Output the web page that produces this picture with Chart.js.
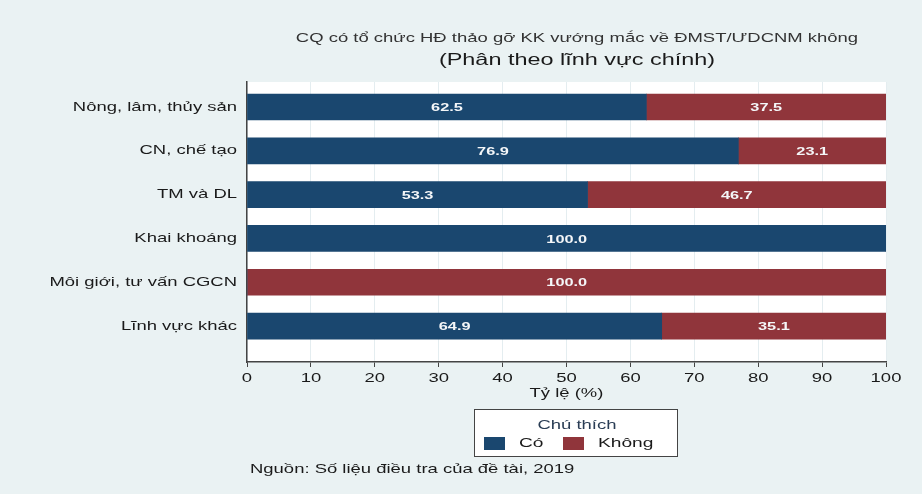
<!DOCTYPE html>
<html>
<head>
<meta charset="utf-8">
<script src="https://cdn.jsdelivr.net/npm/chart.js@4"></script>
<style>
  html, body { margin:0; padding:0; background:#eaf2f3; }
  #wrap { position:relative; width:922px; height:494px; background:#eaf2f3; font-family:"Liberation Sans", Arial, sans-serif; color:#222; overflow:hidden; }
  #chart { position:absolute; left:0; top:0; }
  /* the reference text is stretched sideways, so every label is too */
  .sx { position:absolute; white-space:nowrap; transform:scaleX(1.42); }
  .t1 { left:277px; width:600px; top:30px; text-align:center; font-size:13px; color:#333; transform-origin:center; }
  .t2 { left:277px; width:600px; top:50px; text-align:center; font-size:16.5px; color:#1a1a1a; transform-origin:center; }
  #legend { position:absolute; left:474px; top:409px; width:204px; height:48px; background:#fff; border:1.5px solid #444; box-sizing:border-box; }
  .lt { left:0; width:204px; top:7px; text-align:center; font-size:13px; color:#2a3d55; transform-origin:center; }
  .sw { position:absolute; width:21px; height:13px; top:27px; }
  .li { top:25px; font-size:13.5px; color:#1a1a1a; transform-origin:left; }
  .src { left:250px; top:461px; font-size:13px; color:#1a1a1a; transform-origin:left; }
</style>
</head>
<body>
<div id="wrap">
  <canvas id="chart" width="922" height="494"></canvas>
  <div class="sx t1">CQ có tổ chức HĐ thảo gỡ KK vướng mắc về ĐMST/ƯDCNM không</div>
  <div class="sx t2">(Phân theo lĩnh vực chính)</div>
  <div id="legend"><div class="sx lt">Chú thích</div></div>
  <div class="sx src">Nguồn: Số liệu điều tra của đề tài, 2019</div>
</div>
<script>
// ===== DATA =====
const categories = ["Nông, lâm, thủy sản", "CN, chế tạo", "TM và DL", "Khai khoáng", "Môi giới, tư vấn CGCN", "Lĩnh vực khác"];
const coValues = [62.5, 76.9, 53.3, 100.0, 0, 64.9];
const khongValues = [37.5, 23.1, 46.7, 0, 100.0, 35.1];
const xTicks = [0, 10, 20, 30, 40, 50, 60, 70, 80, 90, 100];
const seriesNames = ["Có", "Không"];
const colors = ["#1a476f", "#90353b"];

const SX = 1.42; // horizontal text stretch seen in the reference
const FONT = "'Liberation Sans', Arial, sans-serif";

// ===== PLUGINS =====
const plotBg = {
  id: "plotBg",
  beforeDraw(chart){
    const a = chart.chartArea, ctx = chart.ctx;
    ctx.save();
    ctx.fillStyle = "#fff";
    ctx.fillRect(a.left, a.top, a.right - a.left, a.bottom - a.top);
    ctx.restore();
  }
};

// stretch every canvas text sideways while the chart draws
const stretchText = {
  id: "stretchText",
  beforeDraw(chart){
    const ctx = chart.ctx;
    const orig = CanvasRenderingContext2D.prototype.fillText;
    ctx.fillText = function(t, x, y){
      this.save();
      this.translate(x, y);
      this.scale(SX, 1);
      orig.call(this, t, 0, 0);
      this.restore();
    };
  },
  afterDraw(chart){
    delete chart.ctx.fillText;
  }
};

const barLabels = {
  id: "barLabels",
  afterDatasetsDraw(chart){
    const ctx = chart.ctx;
    ctx.save();
    ctx.fillStyle = "#f4f6f8";
    ctx.font = "bold 11.5px " + FONT;
    ctx.textAlign = "center";
    ctx.textBaseline = "middle";
    chart.data.datasets.forEach((ds, di) => {
      chart.getDatasetMeta(di).data.forEach((el, i) => {
        const v = ds.data[i].x;
        if(!v) return;
        const p = el.getProps(["x", "y", "base"], true);
        ctx.fillText(v.toFixed(1), (p.x + p.base) / 2, p.y + 1);
      });
    });
    ctx.restore();
  }
};

// ===== CHART =====
const ctx = document.getElementById("chart").getContext("2d");
const chart = new Chart(ctx, {
  type: "bar",
  data: {
    datasets: [
      { label: seriesNames[0], data: coValues.map((v, i) => ({ x: v, y: i })), backgroundColor: colors[0], barThickness: 26 },
      { label: seriesNames[1], data: khongValues.map((v, i) => ({ x: v, y: i })), backgroundColor: colors[1], barThickness: 26 }
    ]
  },
  options: {
    indexAxis: "y",
    responsive: false,
    animation: false,
    layout: { padding: { top: 82, right: 36, bottom: 92, left: 0 } },
    plugins: { legend: { display: false }, title: { display: false }, tooltip: { enabled: false } },
    scales: {
      x: {
        type: "linear", stacked: true, min: 0, max: 100,
        afterBuildTicks: s => { s.ticks = xTicks.map(v => ({ value: v })); },
        afterFit: s => { s.height = 40; },
        grid: { color: "#e4edf0", lineWidth: 1, tickColor: "#444", tickLength: 5 },
        border: { display: true, color: "#444", width: 1.5 },
        ticks: { color: "#1a1a1a", font: { size: 13, family: FONT }, padding: 4, maxRotation: 0 },
        title: { display: true, text: "Tỷ lệ (%)", color: "#1a1a1a", font: { size: 13, family: FONT }, padding: { top: 0, bottom: 1 } }
      },
      y: {
        type: "linear", stacked: true, reverse: true, offset: false, min: -0.57, max: 5.82,
        afterBuildTicks: s => { s.ticks = categories.map((_, i) => ({ value: i })); },
        afterFit: s => { s.width = 247; },
        grid: { display: false, drawTicks: false },
        border: { display: true, color: "#444", width: 1.5 },
        ticks: { color: "#1a1a1a", font: { size: 13, family: FONT }, padding: 10, callback: v => categories[v] }
      }
    }
  },
  plugins: [plotBg, stretchText, barLabels]
});

// ===== LEGEND =====
const legend = document.getElementById("legend");
const swX = [9, 88], txtX = [44, 123];
seriesNames.forEach((n, i) => {
  legend.insertAdjacentHTML("beforeend",
    `<span class="sw" style="left:${swX[i]}px;background:${colors[i]}"></span>` +
    `<span class="sx li" style="left:${txtX[i]}px">${n}</span>`);
});
</script>
</body>
</html>
